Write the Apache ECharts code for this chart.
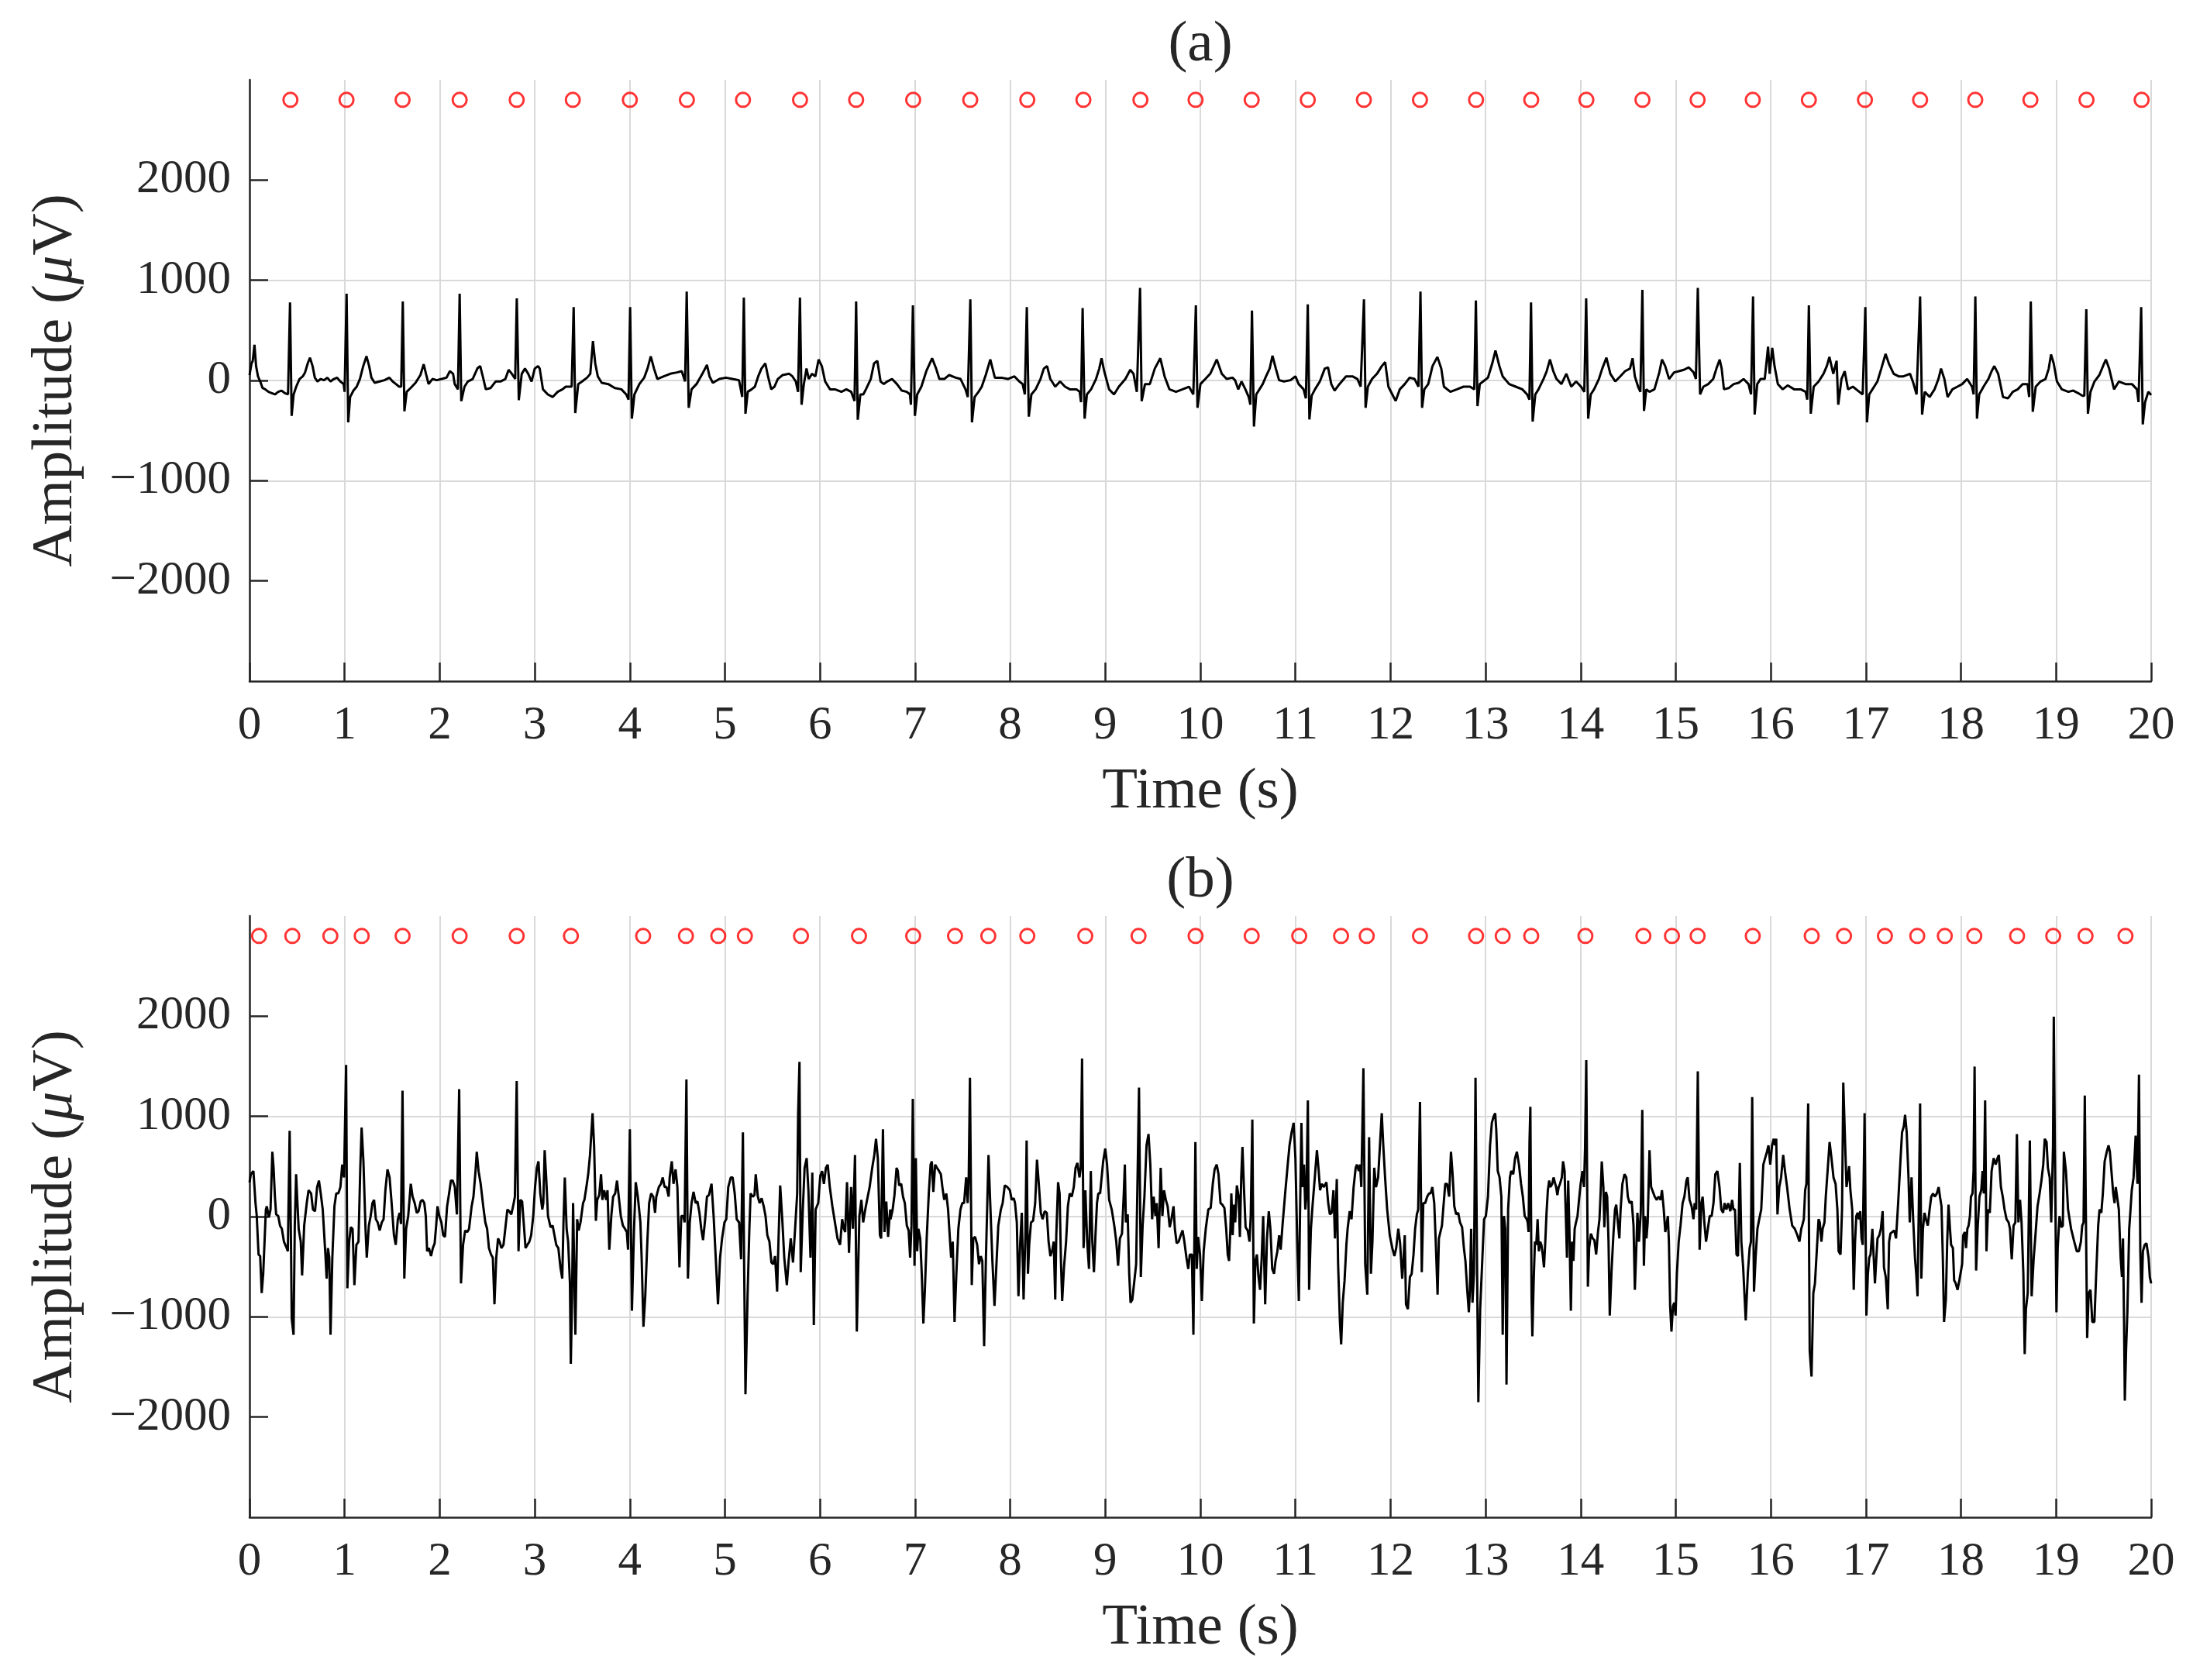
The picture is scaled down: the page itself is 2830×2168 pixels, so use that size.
<!DOCTYPE html>
<html>
<head>
<meta charset="utf-8">
<script src="https://cdn.jsdelivr.net/npm/echarts@6.0.0/dist/echarts.min.js"></script>
<style>
html,body{margin:0;padding:0;background:#fff;}
#chart{width:2830px;height:2168px;}
</style>
</head>
<body>
<div id="chart"></div>
<script>
// ---------------- DATA ----------------
const timeRange = [0, 20];
const ampRange = [-3000, 3000];
const yTickValues = [-2000, -1000, 0, 1000, 2000];
const markerLevel = 2800;
const panelTitles = ['(a)', '(b)'];

// detected R-peak times (s), panel (a)
const peaksA = [0.43,1.02,1.61,2.21,2.81,3.40,4.00,4.60,5.19,5.79,6.38,6.98,7.58,8.18,8.77,9.37,9.95,10.54,11.13,11.72,12.31,12.90,13.48,14.06,14.65,15.23,15.81,16.40,16.99,17.57,18.15,18.73,19.32,19.90];
// detected R-peak times (s), panel (b)
const peaksB = [0.10,0.45,0.85,1.18,1.61,2.21,2.81,3.38,4.14,4.59,4.93,5.21,5.80,6.41,6.98,7.42,7.77,8.18,8.79,9.35,9.95,10.54,11.04,11.48,11.75,12.31,12.90,13.18,13.48,14.05,14.66,14.96,15.23,15.81,16.43,16.77,17.20,17.54,17.83,18.14,18.59,18.97,19.31,19.73];

// ECG trace (a): [time s, amplitude uV]
const ecgA = [
[0.000,54],[0.021,170],[0.034,196],[0.052,356],[0.069,144],[0.089,41],[0.113,-10],[0.137,-75],[0.165,-88],[0.199,-113],[0.234,-126],[0.268,-139],[0.302,-113],[0.337,-101],[0.371,-126],[0.405,-139],[0.426,778],[0.443,-353],[0.464,-139],[0.491,-62],[0.526,15],[0.560,41],[0.584,80],[0.612,170],[0.636,227],[0.663,144],[0.687,28],[0.715,-10],[0.749,15],[0.784,3],[0.818,28],[0.852,-10],[0.887,15],[0.921,28],[0.955,-10],[0.990,-36],[1.000,-113],[1.021,866],[1.038,-418],[1.058,-165],[1.093,-101],[1.127,-62],[1.161,15],[1.196,144],[1.230,242],[1.258,144],[1.282,28],[1.316,-23],[1.368,-10],[1.419,3],[1.471,28],[1.505,-10],[1.540,-36],[1.574,-62],[1.595,-62],[1.612,789],[1.629,-307],[1.653,-113],[1.694,-75],[1.746,-23],[1.797,54],[1.832,162],[1.856,67],[1.883,-36],[1.924,15],[1.969,3],[2.021,15],[2.072,28],[2.107,93],[2.141,67],[2.158,-36],[2.192,-88],[2.210,866],[2.227,-206],[2.261,-62],[2.296,-10],[2.347,15],[2.399,124],[2.426,144],[2.450,54],[2.485,-88],[2.536,-75],[2.588,-10],[2.639,-10],[2.691,15],[2.725,106],[2.759,67],[2.794,15],[2.811,820],[2.832,-196],[2.863,67],[2.897,119],[2.931,67],[2.966,-10],[3.000,119],[3.034,144],[3.052,119],[3.086,-88],[3.137,-139],[3.189,-165],[3.241,-113],[3.292,-88],[3.326,-62],[3.388,-62],[3.409,732],[3.426,-325],[3.457,-36],[3.498,-10],[3.550,28],[3.584,67],[3.612,394],[3.636,170],[3.663,41],[3.704,-23],[3.773,-36],[3.842,-75],[3.911,-88],[3.962,-139],[3.986,-191],[4.003,732],[4.021,-381],[4.048,-139],[4.100,-36],[4.151,28],[4.186,119],[4.220,240],[4.254,119],[4.289,15],[4.357,41],[4.426,67],[4.495,80],[4.546,93],[4.581,-10],[4.598,887],[4.619,-273],[4.649,-88],[4.701,-36],[4.770,80],[4.811,155],[4.838,41],[4.873,-23],[4.942,15],[5.010,28],[5.079,15],[5.148,3],[5.182,-165],[5.199,827],
[5.216,-332],[5.240,-113],[5.281,-88],[5.315,-62],[5.350,41],[5.384,119],[5.425,170],[5.453,41],[5.487,-88],[5.521,-62],[5.556,15],[5.607,54],[5.676,67],[5.710,41],[5.745,-10],[5.769,-113],[5.789,827],[5.806,-242],[5.830,-36],[5.858,119],[5.882,15],[5.916,67],[5.951,41],[5.985,209],[6.019,144],[6.054,-10],[6.105,-88],[6.157,-88],[6.225,-113],[6.277,-88],[6.328,-113],[6.363,-204],[6.380,789],[6.397,-392],[6.424,-139],[6.455,-139],[6.483,-88],[6.534,15],[6.568,170],[6.603,196],[6.637,-10],[6.671,-36],[6.706,-10],[6.757,15],[6.809,-36],[6.860,-101],[6.912,-113],[6.946,-139],[6.956,-242],[6.977,750],[6.998,-353],[7.022,-139],[7.066,-62],[7.118,93],[7.179,222],[7.221,119],[7.255,15],[7.307,15],[7.358,54],[7.427,28],[7.478,15],[7.530,-88],[7.554,-165],[7.581,809],[7.598,-418],[7.626,-165],[7.667,-113],[7.701,-62],[7.743,54],[7.791,209],[7.839,28],[7.907,28],[7.976,15],[8.045,41],[8.096,-10],[8.131,-36],[8.154,-139],[8.175,732],[8.196,-361],[8.223,-139],[8.268,-88],[8.319,15],[8.354,119],[8.388,144],[8.422,15],[8.474,-62],[8.525,-10],[8.577,-62],[8.628,-88],[8.697,-88],[8.731,-113],[8.745,-216],[8.762,722],[8.783,-381],[8.807,-139],[8.851,-88],[8.903,15],[8.937,119],[8.961,222],[8.989,93],[9.040,-88],[9.092,-139],[9.143,-62],[9.212,15],[9.263,106],[9.297,67],[9.332,-113],[9.366,923],[9.383,-206],[9.418,-36],[9.469,-36],[9.521,119],[9.579,222],[9.624,41],[9.675,-88],[9.744,-113],[9.813,-88],[9.881,-62],[9.926,-139],[9.953,750],[9.970,-273],[10.001,-36],[10.053,15],[10.104,67],[10.173,209],[10.225,67],[10.276,15],[10.338,28],
[10.365,3],[10.399,-88],[10.433,-10],[10.474,-88],[10.509,-165],[10.526,-242],[10.543,698],[10.564,-459],[10.588,-139],[10.622,-88],[10.656,-36],[10.691,41],[10.729,119],[10.759,247],[10.794,119],[10.828,3],[10.880,-10],[10.948,3],[11.000,41],[11.034,-36],[11.086,-88],[11.110,-178],[11.130,760],[11.147,-389],[11.171,-152],[11.206,-88],[11.257,-10],[11.309,119],[11.343,131],[11.377,-36],[11.412,-101],[11.463,-36],[11.532,41],[11.600,41],[11.652,15],[11.686,-62],[11.721,809],[11.738,-273],[11.762,-62],[11.806,15],[11.858,67],[11.909,144],[11.944,183],[11.978,-62],[12.019,-139],[12.054,-204],[12.098,-88],[12.150,-36],[12.201,28],[12.253,15],[12.294,-62],[12.315,887],[12.332,-273],[12.356,-88],[12.397,-36],[12.442,144],[12.493,235],[12.534,119],[12.562,-62],[12.630,-113],[12.699,-88],[12.768,-62],[12.836,-62],[12.881,-88],[12.898,799],[12.915,-255],[12.939,-36],[12.974,-10],[13.025,28],[13.070,170],[13.104,299],[13.145,144],[13.180,41],[13.248,-36],[13.317,-62],[13.386,-88],[13.437,-139],[13.461,-191],[13.478,778],[13.495,-410],[13.523,-139],[13.557,-88],[13.609,15],[13.643,93],[13.677,209],[13.712,93],[13.746,15],[13.798,-36],[13.849,67],[13.901,-62],[13.952,-10],[14.004,-62],[14.038,-113],[14.058,820],[14.079,-381],[14.106,-139],[14.141,-88],[14.192,15],[14.227,119],[14.271,227],[14.312,67],[14.364,-10],[14.416,41],[14.467,93],[14.519,119],[14.546,222],[14.570,41],[14.604,-62],[14.628,-113],[14.649,905],[14.666,-304],[14.690,-88],[14.724,-113],[14.776,-88],[14.827,80],[14.855,209],[14.889,144],[14.930,15],[14.982,80],[15.033,93],[15.085,106],[15.136,131],[15.188,80],[15.212,15],[15.232,923],[15.256,-139],[15.291,-62],[15.342,-36],[15.394,15],[15.428,119],[15.462,209],
[15.483,119],[15.507,-88],[15.559,-75],[15.610,-36],[15.662,-23],[15.713,15],[15.765,-36],[15.792,-139],[15.813,838],[15.830,-340],[15.857,-36],[15.892,15],[15.936,15],[15.971,338],[15.988,67],[16.015,325],[16.039,144],[16.074,-36],[16.125,-88],[16.177,-49],[16.245,-88],[16.314,-88],[16.366,-113],[16.383,-191],[16.400,750],[16.420,-332],[16.451,-62],[16.503,-10],[16.554,67],[16.589,144],[16.616,235],[16.657,67],[16.692,196],[16.709,-242],[16.743,15],[16.777,93],[16.812,-88],[16.863,-62],[16.915,-101],[16.966,-139],[16.994,732],[17.011,-418],[17.035,-139],[17.069,-88],[17.121,-10],[17.162,119],[17.207,265],[17.241,170],[17.292,67],[17.344,41],[17.395,41],[17.464,67],[17.498,-23],[17.533,-139],[17.570,838],[17.591,-340],[17.619,-113],[17.670,-165],[17.722,-88],[17.763,15],[17.790,119],[17.825,15],[17.859,-165],[17.910,-88],[17.962,-62],[18.013,-36],[18.065,15],[18.116,-62],[18.133,-139],[18.151,838],[18.168,-381],[18.192,-139],[18.237,-62],[18.288,15],[18.322,93],[18.350,144],[18.391,67],[18.442,-165],[18.494,-178],[18.545,-113],[18.597,-88],[18.648,-36],[18.700,-36],[18.717,-165],[18.734,789],[18.755,-312],[18.786,-62],[18.837,-10],[18.889,15],[18.923,119],[18.947,260],[18.975,170],[19.009,-10],[19.060,-88],[19.129,-113],[19.181,-101],[19.232,-126],[19.277,-152],[19.297,-152],[19.318,711],[19.335,-332],[19.362,-113],[19.404,-10],[19.455,54],[19.500,157],[19.524,209],[19.558,119],[19.610,-88],[19.661,-10],[19.730,-36],[19.798,-36],[19.850,-88],[19.867,-216],[19.895,732],[19.912,-438],[19.936,-216],[19.970,-113],[20.000,-145]
];

// ECG trace (b): [time s, amplitude uV]
const ecgB = [
[0.000,343],[0.014,423],[0.041,455],[0.063,135],[0.076,6],[0.095,-378],[0.112,-394],[0.128,-763],[0.144,-571],[0.172,71],[0.182,103],[0.204,-10],[0.221,71],[0.240,647],[0.253,487],[0.267,199],[0.280,22],[0.302,6],[0.321,-90],[0.340,-122],[0.362,-250],[0.384,-298],[0.403,-346],[0.422,856],[0.436,-250],[0.444,-1019],[0.463,-1179],[0.476,-90],[0.490,423],[0.504,135],[0.517,-122],[0.539,-250],[0.553,-587],[0.575,-90],[0.602,135],[0.621,263],[0.648,231],[0.667,71],[0.689,54],[0.711,295],[0.730,359],[0.749,231],[0.770,71],[0.798,-378],[0.811,-619],[0.825,-314],[0.839,-410],[0.852,-1179],[0.871,-410],[0.893,103],[0.912,231],[0.934,231],[0.956,295],[0.975,519],[0.994,391],[1.016,1513],[1.029,-715],[1.048,-250],[1.065,-106],[1.084,-122],[1.103,-683],[1.124,-282],[1.146,-250],[1.165,487],[1.179,888],[1.198,551],[1.220,-122],[1.233,-410],[1.255,-90],[1.274,6],[1.293,135],[1.310,167],[1.329,-26],[1.348,-58],[1.369,-138],[1.391,-58],[1.410,-26],[1.429,263],[1.451,471],[1.473,391],[1.492,167],[1.519,-186],[1.538,-282],[1.560,-26],[1.579,38],[1.593,-74],[1.609,1256],[1.628,-619],[1.647,-122],[1.669,6],[1.696,327],[1.715,199],[1.737,135],[1.759,38],[1.778,54],[1.800,151],[1.819,167],[1.838,135],[1.854,6],[1.868,-346],[1.887,-314],[1.909,-394],[1.928,-314],[1.947,-266],[1.963,-90],[1.977,103],[1.996,6],[2.018,-58],[2.037,-186],[2.056,-202],[2.078,103],[2.099,231],[2.118,359],[2.137,359],[2.159,295],[2.181,22],[2.205,1272],[2.224,-667],[2.246,-282],[2.268,-138],[2.290,-154],[2.309,-122],[2.336,103],[2.355,199],[2.377,455],[2.390,647],[2.409,455],[2.431,327],[2.458,103],[2.480,-58],[2.499,-122],[2.518,-314],[2.540,-378],[2.559,-410],[2.576,-875],[2.595,-410],[2.614,-218],[2.630,-250],[2.649,-314],[2.671,-282],[2.690,-122],[2.712,71],[2.731,54],[2.753,22],[2.772,103],[2.791,199],[2.810,1353],[2.829,-346],[2.848,167],[2.867,151],[2.886,-90],[2.903,-314],[2.922,-282],[2.943,-250],[2.962,-186],[2.984,6],[3.003,295],[3.022,487],[3.039,551],[3.058,231],[3.079,71],[3.090,135],[3.104,663],[3.120,391],[3.139,6],[3.166,-106],[3.188,-90],[3.207,-186],[3.226,-282],[3.248,-314],[3.270,-506],[3.289,-619],[3.302,-58],[3.316,391],[3.335,-122],[3.351,-250],[3.370,-667],[3.379,-1468],[3.392,-827],[3.403,135],
[3.427,-1179],[3.446,-26],[3.462,-138],[3.481,-58],[3.508,135],[3.522,167],[3.543,295],[3.562,423],[3.581,615],[3.608,1032],[3.624,711],[3.643,-42],[3.657,167],[3.678,215],[3.697,423],[3.711,167],[3.730,263],[3.751,167],[3.765,263],[3.784,-330],[3.805,6],[3.824,199],[3.846,231],[3.865,359],[3.887,167],[3.905,6],[3.927,-90],[3.949,-122],[3.968,-154],[3.981,-330],[4.000,872],[4.022,-939],[4.043,-154],[4.062,343],[4.084,199],[4.111,-58],[4.124,-410],[4.143,-1099],[4.162,-795],[4.184,-250],[4.203,135],[4.224,231],[4.246,199],[4.265,38],[4.278,199],[4.305,295],[4.327,327],[4.346,391],[4.365,295],[4.386,295],[4.408,199],[4.419,391],[4.441,551],[4.459,327],[4.481,471],[4.500,295],[4.522,-506],[4.541,6],[4.562,6],[4.576,-58],[4.595,1369],[4.611,-619],[4.630,-58],[4.649,135],[4.670,247],[4.692,135],[4.711,151],[4.732,38],[4.751,-122],[4.770,-234],[4.792,-26],[4.811,199],[4.832,215],[4.859,327],[4.881,6],[4.905,-442],[4.927,-875],[4.949,-410],[4.970,-218],[4.995,-58],[5.014,-26],[5.035,295],[5.062,391],[5.081,391],[5.103,231],[5.124,-26],[5.149,-58],[5.170,-426],[5.189,840],[5.203,-570],[5.216,-1772],[5.238,-795],[5.257,-122],[5.270,231],[5.292,199],[5.311,215],[5.324,423],[5.346,199],[5.365,135],[5.386,183],[5.408,103],[5.427,6],[5.446,-186],[5.468,-250],[5.489,-458],[5.508,-474],[5.527,-394],[5.549,-747],[5.562,-282],[5.581,311],[5.603,-26],[5.624,-410],[5.651,-683],[5.670,-442],[5.692,-218],[5.716,-458],[5.738,-122],[5.760,231],[5.770,1032],[5.784,1545],[5.797,-554],[5.819,71],[5.838,487],[5.860,583],[5.878,263],[5.900,-410],[5.919,439],[5.935,-1083],[5.954,71],[5.981,135],[6.003,407],[6.022,455],[6.041,327],[6.062,487],[6.081,519],[6.103,295],[6.130,103],[6.157,-58],[6.184,-218],[6.211,-282],[6.233,-26],[6.251,-122],[6.265,-154],[6.284,343],[6.305,-362],[6.327,295],[6.346,-122],[6.368,615],[6.387,-1147],[6.414,6],[6.435,167],[6.454,-58],[6.476,71],[6.495,167],[6.522,295],[6.549,487],[6.571,615],[6.589,776],[6.608,583],[6.630,-186],[6.643,-218],[6.662,872],[6.678,-154],[6.697,151],[6.716,-202],[6.738,71],
[6.742,-26],[6.764,71],[6.783,215],[6.805,487],[6.818,455],[6.832,311],[6.854,327],[6.873,199],[6.892,135],[6.913,-90],[6.932,-138],[6.948,-410],[6.962,-90],[6.976,1176],[6.994,-490],[7.008,583],[7.022,-346],[7.035,-122],[7.054,-218],[7.070,-570],[7.087,-1067],[7.103,-731],[7.122,-218],[7.144,231],[7.163,519],[7.176,551],[7.192,247],[7.211,519],[7.230,487],[7.252,455],[7.271,423],[7.287,295],[7.306,167],[7.328,231],[7.347,71],[7.366,-218],[7.379,-410],[7.396,-250],[7.415,-1051],[7.434,-570],[7.455,-122],[7.477,71],[7.496,135],[7.515,135],[7.537,391],[7.553,135],[7.564,391],[7.577,1385],[7.596,-683],[7.612,-218],[7.631,-202],[7.653,-282],[7.672,-474],[7.691,-394],[7.707,-442],[7.726,-1292],[7.745,-410],[7.772,615],[7.789,167],[7.813,-442],[7.835,-891],[7.854,-506],[7.875,-90],[7.902,71],[7.921,135],[7.943,311],[7.970,295],[7.997,263],[8.016,167],[8.038,183],[8.051,135],[8.070,-58],[8.087,-795],[8.106,-250],[8.122,38],[8.141,-827],[8.160,-186],[8.173,760],[8.187,-570],[8.200,-282],[8.219,-58],[8.241,-42],[8.263,135],[8.282,567],[8.301,327],[8.322,38],[8.341,-26],[8.363,54],[8.385,38],[8.404,-250],[8.423,-394],[8.444,-330],[8.458,-250],[8.474,-827],[8.485,-186],[8.504,343],[8.520,231],[8.534,-442],[8.547,-843],[8.566,-506],[8.588,-250],[8.607,103],[8.626,231],[8.648,199],[8.669,295],[8.688,487],[8.707,535],[8.729,391],[8.742,487],[8.756,1577],[8.772,-314],[8.791,263],[8.810,-250],[8.829,-522],[8.848,455],[8.864,-250],[8.881,-554],[8.897,-186],[8.913,135],[8.927,231],[8.946,231],[8.962,391],[8.978,551],[9.000,679],[9.019,519],[9.041,167],[9.068,71],[9.095,-90],[9.116,-250],[9.135,-490],[9.154,-218],[9.176,-170],[9.195,231],[9.206,519],[9.217,-58],[9.236,22],[9.252,-570],[9.266,-859],[9.285,-827],[9.303,-667],[9.325,-474],[9.339,-474],[9.355,1288],[9.374,-603],[9.393,-90],[9.412,199],[9.434,711],[9.455,824],[9.474,519],[9.493,-26],[9.509,199],[9.528,6],[9.542,135],[9.561,-314],[9.583,487],[9.601,6],[9.618,263],[9.637,167],[9.656,103],[9.678,-106],[9.696,-26],[9.718,103],[9.732,-122],[9.751,-266],[9.772,-250],[9.794,-186],[9.813,-138],[9.832,-250],[9.854,-410],[9.873,-522],[9.889,-378],[9.911,-378],[9.927,-1179],[9.948,744],[9.962,-522],[9.976,-202],[9.997,-378],[10.016,-843],[10.035,-346],[10.057,-122],[10.084,71],
[10.109,87],[10.131,327],[10.150,471],[10.172,519],[10.191,423],[10.212,135],[10.231,119],[10.253,87],[10.272,-122],[10.288,-378],[10.302,-442],[10.316,-122],[10.326,231],[10.340,-186],[10.354,119],[10.367,-58],[10.384,311],[10.403,199],[10.416,-202],[10.430,391],[10.443,695],[10.457,327],[10.476,-106],[10.498,-138],[10.517,-250],[10.530,6],[10.547,968],[10.563,-1067],[10.579,-442],[10.595,-378],[10.612,-603],[10.628,-731],[10.644,-442],[10.661,6],[10.682,-875],[10.701,-218],[10.720,54],[10.737,-122],[10.756,-522],[10.775,-570],[10.791,-442],[10.810,-346],[10.829,-186],[10.845,-330],[10.864,-90],[10.892,231],[10.919,519],[10.938,711],[10.960,840],[10.981,936],[11.000,583],[11.019,-250],[11.036,-843],[11.049,71],[11.063,936],[11.076,295],[11.090,519],[11.104,71],[11.115,199],[11.131,1160],[11.144,-731],[11.163,-122],[11.182,135],[11.204,391],[11.226,663],[11.245,455],[11.259,263],[11.278,327],[11.299,295],[11.326,343],[11.345,135],[11.362,22],[11.381,38],[11.400,263],[11.416,-218],[11.435,375],[11.449,-474],[11.468,-1051],[11.481,-1276],[11.498,-859],[11.517,-635],[11.536,-282],[11.549,-122],[11.571,54],[11.590,-26],[11.612,295],[11.634,487],[11.647,519],[11.666,455],[11.680,519],[11.693,295],[11.715,1481],[11.734,-474],[11.756,-779],[11.775,792],[11.794,-570],[11.810,-250],[11.829,487],[11.848,295],[11.870,391],[11.889,711],[11.908,1032],[11.924,711],[11.943,391],[11.965,71],[11.992,-186],[12.019,-314],[12.041,-394],[12.060,-314],[12.082,-122],[12.101,-266],[12.123,-619],[12.136,-442],[12.150,-186],[12.163,-875],[12.183,-923],[12.204,-603],[12.223,-570],[12.242,-378],[12.259,-122],[12.277,22],[12.291,71],[12.310,1144],[12.329,-554],[12.345,135],[12.365,135],[12.386,199],[12.405,231],[12.422,231],[12.440,295],[12.460,135],[12.476,-250],[12.495,-779],[12.509,-218],[12.522,-218],[12.541,-90],[12.557,103],[12.576,327],[12.595,327],[12.617,199],[12.636,647],[12.653,423],[12.671,103],[12.691,22],[12.712,38],[12.731,-58],[12.753,-106],[12.772,-314],[12.788,-442],[12.807,-731],[12.824,-955],[12.835,-731],[12.848,-122],[12.862,-859],[12.878,-570],[12.894,1385],[12.911,-570],[12.924,-1852],[12.943,-923],[12.965,-442],[12.984,-26],[13.003,6],[13.025,199],[13.047,711],[13.066,936],[13.085,1000],[13.101,1032],[13.112,872],[13.128,455],[13.147,391],[13.166,199],[13.180,-1179],[13.193,6],[13.207,-122],[13.220,-1676],[13.237,71],[13.256,391],[13.269,455],[13.291,423],[13.310,583],[13.329,647],[13.351,519],[13.373,327],[13.392,199],[13.411,6],[13.433,-26],
[13.443,-58],[13.452,-154],[13.462,744],[13.471,1096],[13.484,-827],[13.492,-1195],[13.506,-635],[13.519,-250],[13.533,-282],[13.547,-26],[13.560,-346],[13.574,-250],[13.587,-282],[13.601,-378],[13.614,-506],[13.628,-250],[13.641,38],[13.655,263],[13.669,359],[13.682,295],[13.701,327],[13.715,391],[13.728,343],[13.742,295],[13.755,215],[13.769,295],[13.783,327],[13.802,391],[13.815,551],[13.831,455],[13.842,71],[13.856,-410],[13.869,359],[13.883,-186],[13.897,-939],[13.910,-250],[13.924,-442],[13.937,-122],[13.951,-58],[13.967,6],[13.986,199],[14.000,327],[14.019,455],[14.035,295],[14.046,679],[14.059,1561],[14.076,-699],[14.089,-314],[14.108,-170],[14.127,-218],[14.144,-234],[14.163,-378],[14.182,-154],[14.198,-26],[14.211,263],[14.222,551],[14.239,295],[14.249,-106],[14.266,247],[14.279,199],[14.293,-250],[14.306,-987],[14.325,-538],[14.344,-186],[14.361,71],[14.374,119],[14.388,-26],[14.407,-218],[14.420,71],[14.439,327],[14.461,423],[14.480,391],[14.496,199],[14.515,135],[14.537,151],[14.556,-90],[14.570,-731],[14.583,-378],[14.597,38],[14.613,-250],[14.632,38],[14.648,1064],[14.665,-490],[14.678,6],[14.692,-218],[14.705,-58],[14.724,663],[14.741,295],[14.760,247],[14.779,199],[14.800,167],[14.819,199],[14.841,167],[14.855,263],[14.874,71],[14.890,-154],[14.903,-90],[14.917,6],[14.928,-250],[14.941,-891],[14.955,-1147],[14.971,-891],[14.985,-859],[14.998,-987],[15.012,-570],[15.031,-250],[15.050,-90],[15.072,135],[15.091,199],[15.112,359],[15.126,391],[15.145,167],[15.167,103],[15.186,-26],[15.199,135],[15.215,71],[15.232,1449],[15.251,-330],[15.270,135],[15.283,199],[15.302,-74],[15.319,-250],[15.338,-122],[15.357,6],[15.378,6],[15.397,135],[15.416,423],[15.438,455],[15.460,295],[15.479,71],[15.498,38],[15.514,135],[15.533,71],[15.552,135],[15.574,54],[15.593,167],[15.606,71],[15.623,71],[15.639,-378],[15.655,-394],[15.674,535],[15.690,-250],[15.709,-506],[15.736,-1035],[15.758,-570],[15.777,-314],[15.791,-250],[15.804,1192],[15.823,-747],[15.840,-410],[15.859,-122],[15.878,-26],[15.899,71],[15.921,519],[15.940,583],[15.959,647],[15.975,711],[15.994,519],[16.013,711],[16.030,776],[16.043,711],[16.057,776],[16.070,22],[16.089,295],[16.108,391],[16.130,615],[16.149,455],[16.171,295],[16.198,71],[16.225,-90],[16.252,-122],[16.279,-186],[16.301,-250],[16.320,-122],[16.334,-74],[16.347,-26],[16.361,263],[16.374,327],[16.393,1128],[16.409,-1340],[16.428,-1596],[16.447,-763],[16.464,-667],[16.483,-346],[16.502,-26],[16.515,-58],[16.532,-250],[16.545,-122],[16.564,-58],[16.578,199],[16.597,455],[16.618,744],[16.638,583],[16.659,391],[16.681,327],[16.700,71],[16.713,-346],[16.733,-378],[16.749,71],[16.762,1337],
[16.782,711],[16.796,295],[16.810,391],[16.823,503],[16.837,263],[16.856,71],[16.872,-731],[16.886,-250],[16.899,6],[16.913,38],[16.926,-26],[16.940,54],[16.954,-218],[16.967,-282],[16.986,1032],[17.005,-987],[17.021,-570],[17.035,-410],[17.049,-378],[17.068,-122],[17.081,-122],[17.095,-667],[17.108,-442],[17.122,-218],[17.141,-186],[17.157,-122],[17.176,54],[17.190,-506],[17.209,-603],[17.230,-923],[17.244,-250],[17.258,-170],[17.277,-154],[17.298,-138],[17.317,-218],[17.339,135],[17.361,519],[17.380,840],[17.399,904],[17.412,1016],[17.429,840],[17.448,391],[17.461,-58],[17.480,391],[17.497,-26],[17.516,-410],[17.529,-570],[17.543,-795],[17.556,71],[17.570,1128],[17.583,-619],[17.600,-122],[17.616,38],[17.632,-26],[17.651,-90],[17.670,71],[17.687,199],[17.706,231],[17.725,199],[17.746,231],[17.765,295],[17.779,199],[17.795,103],[17.809,-410],[17.822,-1051],[17.841,-827],[17.855,-250],[17.869,119],[17.882,-90],[17.896,-282],[17.915,-314],[17.928,-635],[17.945,-667],[17.964,-731],[17.983,-635],[17.999,-635],[18.012,-474],[18.023,-186],[18.040,-154],[18.053,-314],[18.067,-122],[18.080,-90],[18.094,6],[18.105,199],[18.121,231],[18.132,455],[18.143,1497],[18.159,-538],[18.175,-122],[18.194,199],[18.213,263],[18.227,455],[18.240,231],[18.254,1160],[18.268,-346],[18.284,71],[18.303,38],[18.322,455],[18.344,583],[18.365,519],[18.384,583],[18.398,615],[18.420,295],[18.439,199],[18.458,71],[18.479,-26],[18.501,-58],[18.515,-122],[18.534,-426],[18.553,-90],[18.572,-58],[18.588,824],[18.604,-58],[18.621,167],[18.637,-58],[18.656,-570],[18.670,-1372],[18.683,-923],[18.702,-763],[18.724,760],[18.743,-795],[18.765,-410],[18.778,-250],[18.805,103],[18.827,231],[18.846,359],[18.865,519],[18.881,776],[18.900,744],[18.914,487],[18.933,391],[18.949,-58],[18.968,711],[18.976,1994],[18.987,711],[19.004,-955],[19.017,-314],[19.036,6],[19.055,-106],[19.071,-90],[19.082,647],[19.104,455],[19.126,71],[19.158,-122],[19.191,-250],[19.218,-346],[19.240,-346],[19.261,-250],[19.275,-90],[19.289,-58],[19.302,1208],[19.313,71],[19.327,-1212],[19.343,-763],[19.362,-731],[19.381,-1051],[19.403,-1051],[19.422,-570],[19.443,-90],[19.457,71],[19.476,38],[19.492,231],[19.511,551],[19.533,647],[19.552,711],[19.566,647],[19.585,423],[19.601,231],[19.615,135],[19.628,295],[19.642,295],[19.660,71],[19.679,-410],[19.693,-603],[19.704,-218],[19.715,-1051],[19.723,-1836],[19.737,-1308],[19.750,-955],[19.769,-122],[19.783,71],[19.796,263],[19.815,391],[19.837,808],[19.856,327],[19.872,1417],[19.886,-346],[19.899,-859],[19.913,-346],[19.932,-282],[19.951,-266],[19.973,-410],[19.986,-603],[20.000,-667]
];

// ---------------- STYLE ----------------
const FONT = '"Liberation Serif", "Times New Roman", serif';
const INK = '#262626';
const GRIDC = '#d9d9d9';
const plotLeft = 322, plotWidth = 2454, plotHeight = 776;
const plotTops = [103, 1182];

const chart = echarts.init(document.getElementById('chart'), null, {renderer: 'canvas'});

function yFmt(v) {
  if (v <= -3000 || v >= 3000) return '';
  return v < 0 ? '\u2212' + Math.abs(v) : String(v);
}

function makeX(i) {
  return {
    type: 'value', gridIndex: i, min: timeRange[0], max: timeRange[1], interval: 1,
    name: 'Time (s)', nameLocation: 'middle', nameGap: 106,
    nameTextStyle: {fontFamily: FONT, fontSize: 75, color: INK},
    axisLine: {show: true, onZero: false, lineStyle: {color: INK, width: 2.5}},
    axisTick: {show: true, inside: true, length: 24, lineStyle: {color: INK, width: 2.5}},
    axisLabel: {margin: 27, fontFamily: FONT, fontSize: 61, color: INK},
    splitLine: {show: true, lineStyle: {color: GRIDC, width: 2}}
  };
}
function makeY(i) {
  return {
    type: 'value', gridIndex: i, min: ampRange[0], max: ampRange[1], interval: 1000,
    name: 'Amplitude ({it|\u03BC}V)', nameLocation: 'middle', nameGap: 212, nameRotate: 90,
    nameTextStyle: {fontFamily: FONT, fontSize: 75, color: INK,
      rich: {it: {fontFamily: FONT, fontSize: 75, color: INK, fontStyle: 'italic'}}},
    axisLine: {show: true, onZero: false, lineStyle: {color: INK, width: 2.5}},
    axisTick: {show: true, inside: true, length: 24, customValues: yTickValues, lineStyle: {color: INK, width: 2.5}},
    axisLabel: {margin: 24, fontFamily: FONT, fontSize: 61, color: INK, formatter: yFmt, customValues: yTickValues},
    splitLine: {show: true, showMinLine: false, showMaxLine: false, lineStyle: {color: GRIDC, width: 2}}
  };
}

const traces = [ecgA, ecgB];
const peaks = [peaksA, peaksB];
const series = [];
[0, 1].forEach(i => {
  series.push({
    type: 'line', xAxisIndex: i, yAxisIndex: i, data: traces[i],
    showSymbol: false, symbol: 'none', sampling: null, animation: false,
    lineStyle: {color: '#000000', width: 3}, z: 3
  });
  series.push({
    type: 'scatter', xAxisIndex: i, yAxisIndex: i,
    data: peaks[i].map(t => [t, markerLevel]),
    symbol: 'circle', symbolSize: 18, animation: false,
    itemStyle: {color: 'rgba(255,255,255,0)', borderColor: '#ff0000', borderWidth: 3}, z: 4
  });
});

const option = {
  backgroundColor: '#ffffff',
  animation: false,
  grid: plotTops.map(t => ({left: plotLeft, top: t, width: plotWidth, height: plotHeight, containLabel: false})),
  xAxis: [makeX(0), makeX(1)],
  yAxis: [makeY(0), makeY(1)],
  graphic: panelTitles.map((txt, i) => ({
    type: 'text', x: plotLeft + plotWidth / 2, y: plotTops[i] - 45,
    style: {text: txt, font: '75px ' + FONT, fill: INK, align: 'center', verticalAlign: 'middle'}
  })),
  series: series
};
chart.setOption(option);
</script>
</body>
</html>
